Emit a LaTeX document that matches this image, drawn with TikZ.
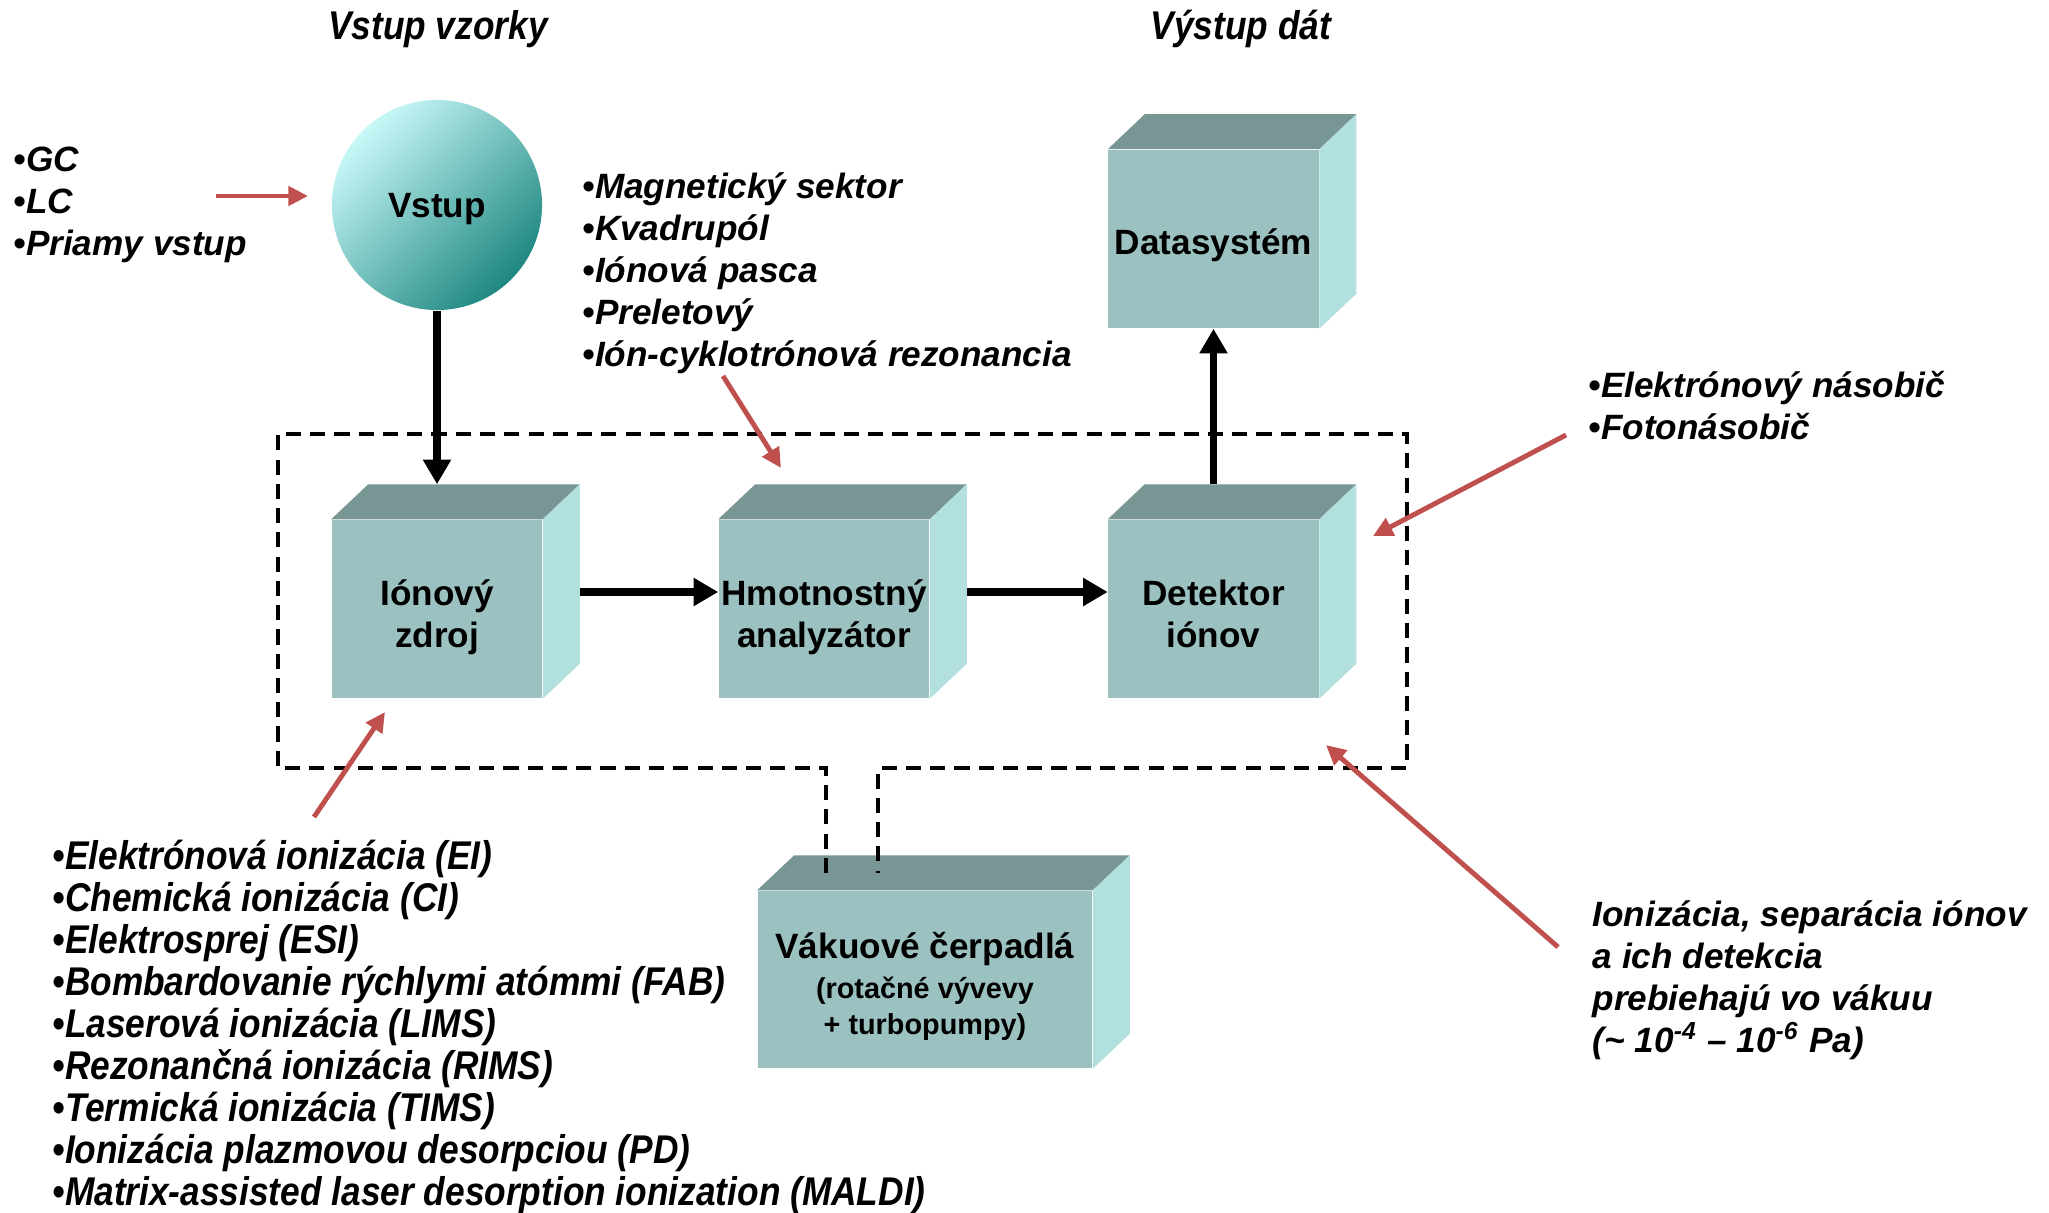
\documentclass[tikz,border=0pt]{standalone}
\usepackage{fontspec}
\setmainfont{Liberation Sans}
\newfontfamily\narrowsans[FakeStretch=0.88]{Liberation Sans}
\usetikzlibrary{calc,arrows.meta}
\definecolor{facecol}{RGB}{155,194,193}
\definecolor{topcol}{RGB}{119,150,148}
\definecolor{sidecol}{RGB}{178,224,223}
\definecolor{ballhi}{RGB}{200,248,248}
\definecolor{balllo}{RGB}{30,135,128}
\definecolor{pointer}{RGB}{192,80,77}
\tikzset{
    crate/.style={fill=facecol, inner sep=0pt, align=center,
        minimum width=2.1cm, minimum height=1.78cm,
        execute at begin node={\rule{0pt}{#1}},
        execute at end node={\rule[-3pt]{0pt}{3pt}},
        font=\fontsize{10}{12}\selectfont\bfseries},
    crate/.default=12pt,
    ball/.style={circle, minimum size=2.1cm, inner sep=0pt,
        text height=9.3pt, text depth=2.1pt,
        top color=ballhi, bottom color=balllo, shading angle=45,
        font=\fontsize{10}{12}\selectfont\bfseries},
    flow/.style={line width=2pt, -{Triangle[length=7pt,width=7.6pt]}},
    hint/.style={pointer, line width=1.4pt, -{Triangle[length=5.6pt,width=5.4pt]}},
    list/.style={anchor=west, inner sep=0pt, align=left,
        font=\fontsize{10}{11.95}\selectfont\bfseries\itshape},
    narrow/.style={inner sep=0pt, align=left,
        font=\narrowsans\fontsize{11.4}{11.95}\selectfont\bfseries\itshape},
    vacuum/.style={line width=1.15pt, dash pattern=on 4.3pt off 2.6pt}
}
\begin{document}
\begin{tikzpicture}[x=0.01cm,y=-0.01cm]
    \useasboundingbox (0,0) rectangle (2049,1212);
    % inlet and blocks
    \node[ball] (vstup) at (437,205) {Vstup};
    \node[crate=24.8pt] (src) at (437,609) {Iónový\\zdroj};
    \node[crate=24.8pt] (ana) at (824,609) {Hmotnostný\\analyzátor};
    \node[crate=24.8pt] (det) at (1213.5,609) {Detektor\\iónov};
    \node[crate] (data) at (1213.5,239) {Datasystém};
    \node[crate=34.3pt, minimum width=3.34cm, minimum height=1.77cm] (pump) at (925,979.5)
        {Vákuové čerpadlá\\[-0.6pt]{\fontsize{8.2}{10}\selectfont (rotačné vývevy}\\[-1.8pt]{\fontsize{8.2}{10}\selectfont + turbopumpy)}};
    % top and side faces
    \foreach \b in {src,ana,det,data,pump}{
        \fill[topcol] (\b.north west) -- ++(37,-35) -- ($(\b.north east)+(37,-35)$) -- (\b.north east) -- cycle;
        \fill[sidecol] (\b.north east) -- ++(37,-35) -- ($(\b.south east)+(37,-35)$) -- (\b.south east) -- cycle;
    }
    % vacuum frame
    \draw[vacuum] (826,873) -- (826,768) -- (278,768) -- (278,434) -- (1407,434) -- (1407,768) -- (878,768) -- (878,873);
    % main flow
    \draw[flow] (vstup) -- ($(src.north)+(0,-35)$);
    \draw[flow] ($(src.east)+(37,-17)$) -- ($(ana.west)+(0,-17)$);
    \draw[flow] ($(ana.east)+(37,-17)$) -- ($(det.west)+(0,-17)$);
    \draw[flow] ($(det.north)+(0,-35)$) -- (data.south);
    % texts
    \node[narrow] (inhead) at (438,29) {Vstup vzorky};
    \node[narrow] (outhead) at (1241,29) {Výstup dát};
    \node[list] (samples) at (13,205) {•GC\\•LC\\•Priamy vstup};
    \node[list] (analyzers) at (582,273) {•Magnetický sektor\\•Kvadrupól\\•Iónová pasca\\•Preletový\\•Ión-cyklotrónová rezonancia};
    \node[list] (detectors) at (1588,406) {•Elektrónový násobič\\•Fotonásobič};
    \node[narrow, anchor=west] (sources) at (52,1027) {•Elektrónová ionizácia (EI)\\•Chemická ionizácia (CI)\\•Elektrosprej (ESI)\\•Bombardovanie rýchlymi atómmi (FAB)\\•Laserová ionizácia (LIMS)\\•Rezonančná ionizácia (RIMS)\\•Termická ionizácia (TIMS)\\•Ionizácia plazmovou desorpciou (PD)\\•Matrix-assisted laser desorption ionization (MALDI)};
    \node[list] (note) at (1592,980) {Ionizácia, separácia iónov\\a ich detekcia\\prebiehajú vo vákuu\\(\textasciitilde{} 10\textsuperscript{-4} – 10\textsuperscript{-6} Pa)};
    % pointers
    \coordinate (gct) at (216,196);   \coordinate (gch) at (308,196);
    \coordinate (mat) at (723,376);   \coordinate (mah) at (781,468);
    \coordinate (emt) at (1566,435);  \coordinate (emh) at (1373,536);
    \coordinate (iot) at (314,817);   \coordinate (ioh) at (385,712);
    \coordinate (vat) at (1558,947);  \coordinate (vah) at (1326,745);
    \foreach \p in {gc,ma,em,io,va}
        \draw[hint] (\p t) -- (\p h);
\end{tikzpicture}
\end{document}
